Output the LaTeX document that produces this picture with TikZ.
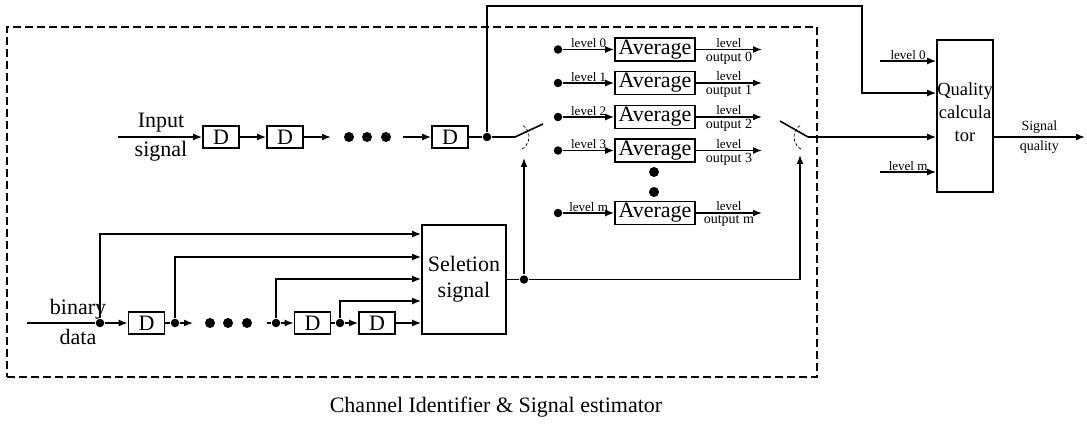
\documentclass[tikz,border=0pt]{standalone}
\usepackage{fontspec}
\setmainfont{Liberation Serif}
\usetikzlibrary{arrows.meta,calc}
\begin{document}
\begin{tikzpicture}[x=1pt,y=-1pt,
  line width=1.6pt,
  arr/.style={-{Latex[length=9pt,width=7pt]}},
  dbox/.style={draw,minimum width=36pt,minimum height=22pt,inner sep=0pt,font=\fontsize{22}{22}\selectfont},
  avgbox/.style={draw,minimum width=80pt,minimum height=23pt,inner sep=0pt,font=\fontsize{22}{22}\selectfont},
  bigbox/.style={draw,inner sep=0pt,align=center,font=\fontsize{22}{26}\selectfont},
  dot/.style={circle,fill,inner sep=0pt,minimum size=8.5pt},
  bigdot/.style={circle,fill,inner sep=0pt,minimum size=10pt},
  lvl/.style={above,inner sep=1pt,font=\fontsize{13}{13}\selectfont},
  outlbl/.style={inner sep=1.5pt,font=\fontsize{13}{13}\selectfont},
  outlblb/.style={inner sep=1.5pt,font=\fontsize{14}{14}\selectfont},
  biglbl/.style={inner sep=0pt,font=\fontsize{22}{22}\selectfont},
  arcd/.style={line width=0.7pt,dash pattern=on 3pt off 2pt}
]
\useasboundingbox (0,0) rectangle (1087,425);

% frame
\node[draw,line width=1.4pt,dash pattern=on 8pt off 4pt,minimum width=810pt,minimum height=350pt,inner sep=0pt] (frame) at (412,202) {};
\node[font=\fontsize{22}{22}\selectfont] (caption) at (496,407) {Channel Identifier \& Signal estimator};

% input chain
\coordinate (in0) at (118,137);
\node[dbox] (d1) at (221,137) {D};
\node[dbox] (d2) at (285,137) {D};
\node[dbox] (d3) at (450,137) {D};
\node[biglbl] (inlblA) at (161,123) {Input};
\node[biglbl] (inlblB) at (161,151) {signal};
\draw[arr] (in0) -- (d1);
\draw[arr] (d1) -- (d2);
\coordinate (e1) at (331,137);
\draw[arr] (d2) -- (e1);
\node[bigdot] (id1) at (349,137) {};
\node[bigdot] (id2) at (367,137) {};
\node[bigdot] (id3) at (386,137) {};
\coordinate (s3) at (403,137);
\draw[arr] (s3) -- (d3);
\node[dot] (j1) at (487,137) {};
\draw (d3) -- (j1);
\coordinate (sw1p) at (515,137);
\coordinate (sw1e) at (543,124);
\draw (j1) -- (sw1p) -- (sw1e);
\draw[arcd] (sw1p) ++(60:14) arc (60:-60:14);

% top bypass
\coordinate (t1) at (487,6);
\coordinate (t2) at (862,6);
\coordinate (t3) at (862,93);

% quality box
\node[bigbox,minimum width=56pt,minimum height=152pt,font=\fontsize{18.5}{23}\selectfont] (q) at (965,116) {};
\node[align=center,inner sep=0pt,font=\fontsize{18.5}{23}\selectfont] (qtxt) at (965,112) {Quality\\calcula\\tor};
\draw[arr] (j1) -- (t1) -- (t2) -- (t3) -- (q.west |- t3);

% averages
\foreach \k/\y/\n in {0/49.5/0,1/83/1,2/117/2,3/150.5/3,m/213/m}{
  \node[dot] (l\k) at (558,\y) {};
  \node[avgbox] (a\k) at (655,\y) {Average};
  \coordinate (o\k) at (762,\y);
  \draw[arr] (l\k) -- node[lvl] {level \n} (a\k);
  \draw[arr] (a\k) -- node[outlbl,above] {level} node[outlblb,below] {output \n} (o\k);
}
\node[bigdot] (vd1) at (654,172) {};
\node[bigdot] (vd2) at (654,192) {};

% binary chain
\coordinate (b0) at (27,323);
\node[biglbl] (blA) at (78,309) {binary};
\node[biglbl] (blB) at (78,337) {data};
\node[dot] (bj0) at (100,323) {};
\node[dbox] (bd1) at (146.5,323) {D};
\node[dot] (bj1) at (175,323) {};
\coordinate (be1) at (193,323);
\node[bigdot] (bdot1) at (210,323) {};
\node[bigdot] (bdot2) at (228,323) {};
\node[bigdot] (bdot3) at (247,323) {};
\coordinate (bs2) at (267,323);
\node[dot] (bj2) at (276,323) {};
\node[dbox] (bd2) at (312.5,323) {D};
\node[dot] (bj3) at (340,323) {};
\node[dbox] (bd3) at (377,323) {D};

% selection box
\node[bigbox,minimum width=84pt,minimum height=109pt] (sel) at (464,279.5) {Seletion\\signal};

\draw (b0) -- (bj0);
\draw[arr] (bj0) -- (bd1);
\draw (bd1) -- (bj1);
\draw[arr] (bj1) -- (be1);
\draw (bs2) -- (bj2);
\draw[arr] (bj2) -- (bd2);
\draw (bd2) -- (bj3);
\draw[arr] (bj3) -- (bd3);
\draw[arr] (bd3) -- (sel.west |- bd3);

\coordinate (k0) at (100,234);
\coordinate (k1) at (175,257);
\coordinate (k2) at (276,279);
\coordinate (k3) at (340,301);
\draw[arr] (bj0) |- (sel.west |- k0);
\draw[arr] (bj1) |- (sel.west |- k1);
\draw[arr] (bj2) |- (sel.west |- k2);
\draw[arr] (bj3) |- (sel.west |- k3);

% selection output
\node[dot] (sj) at (524,279.5) {};
\draw (sel.east) -- (sj);
\coordinate (sw1a) at (524,158);
\draw[arr] (sj) -- (sw1a);
\coordinate (sw2a) at (800,155);
\draw[arr] (sj) -| (sw2a);

% switch 2
\coordinate (sw2s) at (780,121);
\coordinate (sw2p) at (808,137);
\draw[arr] (sw2s) -- (sw2p) -- (q.west |- sw2p);
\draw[arcd] (sw2p) ++(120:14) arc (120:240:14);

% quality inputs
\coordinate (ql0) at (880,61);
\coordinate (qlm) at (880,172);
\draw[arr] (ql0) -- node[lvl] {level 0} (q.west |- ql0);
\draw[arr] (qlm) -- node[lvl] {level m} (q.west |- qlm);

% output
\coordinate (sq) at (1085,137);
\draw[arr] (q.east |- sq) -- node[outlblb,above,inner sep=3pt] {Signal} node[outlblb,below,inner sep=3pt] {quality} (sq);
\end{tikzpicture}
\end{document}
